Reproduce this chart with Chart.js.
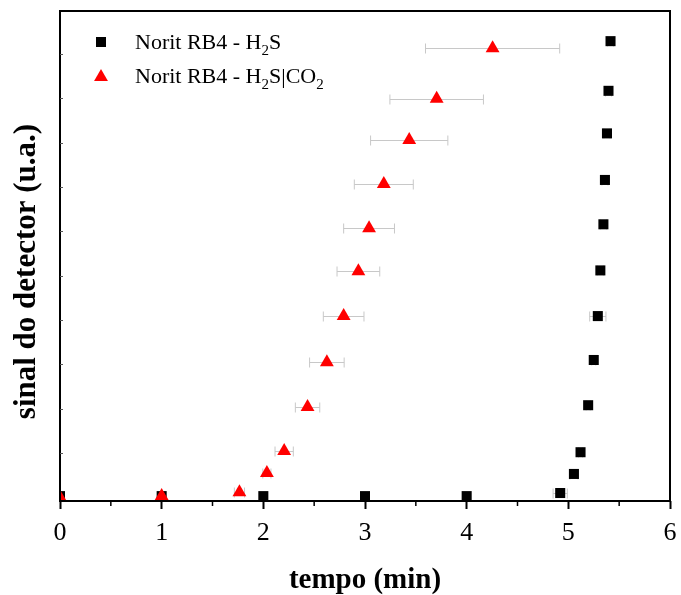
<!DOCTYPE html>
<html>
<head>
<meta charset="utf-8">
<script src="https://cdn.jsdelivr.net/npm/chart.js@4.4.1/dist/chart.umd.min.js"></script>
<style>
  html, body { margin: 0; padding: 0; background: #fff; }
</style>
</head>
<body>
<canvas id="sinal-detector" width="681" height="595"></canvas>
<script>
// Norit RB4 - H2S (squares)
const tempoH2S = [0, 1, 2, 3, 4, 4.92, 5.055, 5.12, 5.195, 5.25, 5.29, 5.315, 5.345, 5.36, 5.38, 5.395, 5.415];
const sinalH2S = [0.03, 0.03, 0.03, 0.03, 0.03, 0.1, 0.53, 1.02, 2.08, 3.1, 4.09, 5.12, 6.16, 7.16, 8.21, 9.17, 10.29];
const erroH2S = [0, 0, 0, 0, 0, 0.07, 0.04, 0.02, 0.02, 0.02, 0.08, 0.03, 0.03, 0.03, 0.03, 0.03, 0.03];

// Norit RB4 - H2S|CO2 (triangles)
const tempoMistura = [0, 1, 1.765, 2.035, 2.205, 2.435, 2.625, 2.79, 2.935, 3.04, 3.185, 3.435, 3.705, 4.255];
const sinalMistura = [0, 0.03, 0.12, 0.55, 1.05, 2.04, 3.05, 4.09, 5.1, 6.07, 7.07, 8.06, 8.99, 10.13];
const erroMistura = [0, 0.02, 0.05, 0.04, 0.09, 0.12, 0.17, 0.2, 0.21, 0.25, 0.29, 0.38, 0.46, 0.66];

const xTicks = [0, 1, 2, 3, 4, 5, 6];
const xMinorTicks = [0.5, 1.5, 2.5, 3.5, 4.5, 5.5];
const yTicks = [1, 2, 3, 4, 5, 6, 7, 8, 9, 10];

const serif = "'Liberation Serif', 'Times New Roman', serif";

function pontos(xs, ys, errs) {
  return xs.map((x, i) => ({ x: x, y: ys[i], err: errs[i] }));
}

// error bars drawn behind the markers
const errorBars = {
  id: "errorBars",
  beforeDatasetsDraw(chart) {
    const ctx = chart.ctx;
    const xs = chart.scales.x;
    const ys = chart.scales.y;
    ctx.save();
    ctx.strokeStyle = "#c8c8c8";
    ctx.lineWidth = 1;
    chart.data.datasets.forEach((ds) => {
      ds.data.forEach((p) => {
        if (!p.err) return;
        const x0 = xs.getPixelForValue(p.x - p.err);
        const x1 = xs.getPixelForValue(p.x + p.err);
        const py = Math.round(ys.getPixelForValue(p.y)) + 0.5;
        ctx.beginPath();
        ctx.moveTo(x0, py);
        ctx.lineTo(x1, py);
        ctx.moveTo(x0, py - 5);
        ctx.lineTo(x0, py + 5);
        ctx.moveTo(x1, py - 5);
        ctx.lineTo(x1, py + 5);
        ctx.stroke();
      });
    });
    ctx.restore();
  },
};

// frame, minor ticks and legend with subscripts
const moldura = {
  id: "moldura",
  afterDraw(chart) {
    const ctx = chart.ctx;
    const a = chart.chartArea;
    const xs = chart.scales.x;
    const ys = chart.scales.y;
    ctx.save();
    ctx.strokeStyle = "#000";
    ctx.lineWidth = 2;
    ctx.strokeRect(a.left, a.top, a.right - a.left, a.bottom - a.top);

    ctx.lineWidth = 1.5;
    xMinorTicks.forEach((v) => {
      const px = xs.getPixelForValue(v);
      ctx.beginPath();
      ctx.moveTo(px, a.bottom);
      ctx.lineTo(px, a.bottom + 5);
      ctx.stroke();
    });
    ctx.strokeStyle = "#555";
    ctx.lineWidth = 1;
    yTicks.forEach((v) => {
      const py = Math.round(ys.getPixelForValue(v)) + 0.5;
      ctx.beginPath();
      ctx.moveTo(a.left, py);
      ctx.lineTo(a.left + 3, py);
      ctx.stroke();
    });

    // legend
    const linhas = [
      { y: 49, mark: 42, ds: 0, parts: [["Norit RB4 - H", 0], ["2", 1], ["S", 0]] },
      { y: 83, mark: 77, ds: 1, parts: [["Norit RB4 - H", 0], ["2", 1], ["S|CO", 0], ["2", 1]] },
    ];
    ctx.textBaseline = "alphabetic";
    linhas.forEach((l) => {
      const ds = chart.data.datasets[l.ds];
      ctx.fillStyle = ds.backgroundColor;
      Chart.helpers.drawPoint(ctx, {
        pointStyle: ds.pointStyle,
        radius: ds.pointRadius,
        rotation: 0,
        borderWidth: 0,
      }, 101, l.mark);
      ctx.fillStyle = "#000";
      let px = 135;
      l.parts.forEach(([txt, sub]) => {
        ctx.font = sub ? "15px " + serif : "22px " + serif;
        ctx.fillText(txt, px, sub ? l.y + 6 : l.y);
        px += ctx.measureText(txt).width;
      });
    });
    ctx.restore();
  },
};

new Chart(document.getElementById("sinal-detector"), {
  type: "scatter",
  data: {
    datasets: [
      {
        label: "Norit RB4 - H2S",
        data: pontos(tempoH2S, sinalH2S, erroH2S),
        pointStyle: "rect",
        pointRadius: 7.1,
        backgroundColor: "#000",
        borderColor: "#000",
        borderWidth: 0,
        clip: 0,
        order: 1,
      },
      {
        label: "Norit RB4 - H2S|CO2",
        data: pontos(tempoMistura, sinalMistura, erroMistura),
        pointStyle: "triangle",
        pointRadius: 8,
        backgroundColor: "#ff0000",
        borderColor: "#ff0000",
        borderWidth: 0,
        clip: 0,
        order: 0,
      },
    ],
  },
  options: {
    responsive: false,
    animation: false,
    events: [],
    layout: { padding: { top: 11, right: 11, left: 0, bottom: 0 } },
    plugins: {
      legend: { display: false },
      tooltip: { enabled: false },
    },
    scales: {
      x: {
        type: "linear",
        min: 0,
        max: 6,
        afterFit: (s) => {
          s.height = 94;
          s.paddingLeft = 0;
          s.paddingRight = 0;
        },
        afterBuildTicks: (s) => { s.ticks = xTicks.map((v) => ({ value: v })); },
        border: { display: false },
        grid: {
          drawOnChartArea: false,
          tickLength: 8,
          tickWidth: 2,
          tickColor: "#000",
        },
        ticks: {
          color: "#000",
          font: { family: serif, size: 26 },
          padding: 9,
          maxRotation: 0,
          autoSkip: false,
        },
        title: {
          display: true,
          text: "tempo (min)",
          color: "#000",
          font: { family: serif, size: 29, weight: "bold" },
          padding: { top: 0, bottom: -3 },
        },
      },
      y: {
        type: "linear",
        min: -0.08,
        max: 10.97,
        afterFit: (s) => {
          s.width = 60;
          s.paddingTop = 0;
          s.paddingBottom = 0;
        },
        border: { display: false },
        grid: { display: false },
        ticks: { display: false },
        title: {
          display: true,
          text: "sinal do detector (u.a.)    ",
          color: "#000",
          font: { family: serif, size: 31, weight: "bold" },
          padding: { top: 8, bottom: 0 },
        },
      },
    },
  },
  plugins: [errorBars, moldura],
});
</script>
</body>
</html>
